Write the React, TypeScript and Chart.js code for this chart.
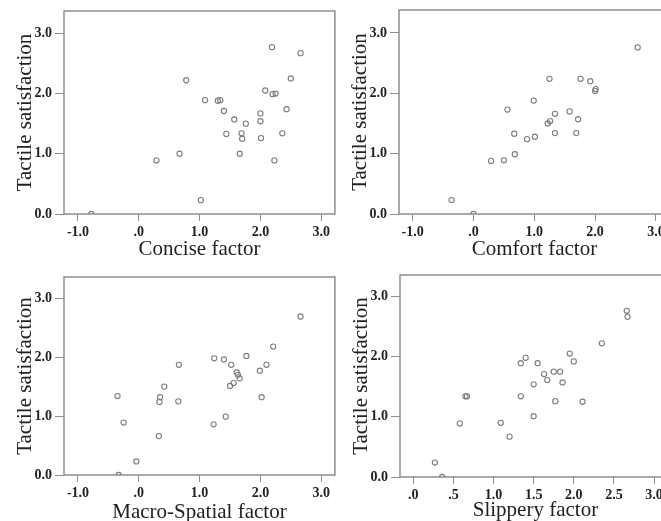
import React, { useEffect, useRef } from 'react';
import { Chart, registerables } from 'chart.js';

Chart.register(...registerables);

// ---------- data ----------
const conciseX = [-0.78, 0.29, 0.67, 0.78, 1.02, 1.09, 1.30, 1.34, 1.40, 1.44, 1.57, 1.76, 1.69, 1.70, 1.66, 2.00, 2.00, 2.01, 2.08, 2.19, 2.20, 2.25, 2.23, 2.36, 2.43, 2.50, 2.66];
const conciseY = [0.00, 0.89, 1.00, 2.22, 0.23, 1.89, 1.88, 1.89, 1.71, 1.33, 1.57, 1.50, 1.34, 1.25, 1.00, 1.67, 1.54, 1.26, 2.05, 2.77, 1.99, 2.00, 0.89, 1.34, 1.74, 2.25, 2.67];

const comfortX = [0.00, -0.36, 0.29, 0.50, 0.68, 0.56, 0.67, 0.88, 1.01, 0.99, 1.22, 1.26, 1.25, 1.34, 1.34, 1.58, 1.72, 1.69, 1.76, 1.92, 2.00, 2.01, 2.70];
const comfortY = [0.00, 0.23, 0.88, 0.89, 0.99, 1.73, 1.33, 1.24, 1.28, 1.88, 1.50, 1.54, 2.24, 1.66, 1.34, 1.70, 1.57, 1.34, 2.24, 2.20, 2.04, 2.07, 2.76];

const macroX = [-0.33, -0.35, -0.25, -0.04, 0.33, 0.34, 0.35, 0.42, 0.65, 0.66, 1.23, 1.24, 1.40, 1.43, 1.52, 1.50, 1.56, 1.61, 1.63, 1.66, 1.77, 1.99, 2.02, 2.10, 2.21, 2.66];
const macroY = [0.00, 1.34, 0.89, 0.23, 0.66, 1.24, 1.32, 1.50, 1.25, 1.87, 0.86, 1.98, 1.96, 0.99, 1.87, 1.51, 1.56, 1.74, 1.70, 1.64, 2.02, 1.77, 1.32, 1.87, 2.18, 2.69];

const slipX = [0.27, 0.36, 0.58, 0.65, 0.67, 1.09, 1.20, 1.34, 1.34, 1.40, 1.50, 1.50, 1.55, 1.63, 1.67, 1.75, 1.77, 1.83, 1.86, 1.95, 2.00, 2.11, 2.35, 2.66, 2.67];
const slipY = [0.24, 0.00, 0.89, 1.34, 1.34, 0.90, 0.67, 1.34, 1.89, 1.98, 1.54, 1.01, 1.89, 1.71, 1.61, 1.75, 1.26, 1.75, 1.57, 2.05, 1.92, 1.25, 2.22, 2.76, 2.66];

const factorTicks = [-1, 0, 1, 2, 3];
const slipperyTicks = [0, 0.5, 1, 1.5, 2, 2.5, 3];
const satisfactionTicks = [0, 1, 2, 3];

const yTitle = 'Tactile satisfaction';
const xTitles = ['Concise factor', 'Comfort factor', 'Macro-Spatial factor', 'Slippery factor'];

// ---------- style ----------
const SERIF = '"Liberation Serif", "Times New Roman", Times, serif';
const FRAME = '#8e8e8e';
const TEXT = '#222222';
const POINT = '#7d7d7d';

const fmtX = (v: number) => {
  const s = Math.abs(v).toFixed(1);
  const t = Math.abs(v) < 1 ? s.slice(1) : s;
  return (v < 0 ? '-' : '') + t;
};
const fmtY = (v: number) => v.toFixed(1);

const framePlugin = {
  id: 'frame',
  beforeDatasetsDraw(chart: any) {
    const { ctx, chartArea: a } = chart;
    ctx.save();
    ctx.strokeStyle = FRAME;
    ctx.lineWidth = 1.5;
    ctx.strokeRect(a.left, a.top, a.right - a.left, a.bottom - a.top);
    ctx.restore();
  },
};

type PanelProps = {
  left: number;
  top: number;
  padTop: number;
  xAxisH: number;
  xMin: number;
  xMax: number;
  yMax: number;
  xTicks: number[];
  xs: number[];
  ys: number[];
  xTitle: string;
  titlePadBottom: number;
};

const W = 340;
const H = 262;

function Panel(p: PanelProps) {
  const ref = useRef<HTMLCanvasElement | null>(null);
  useEffect(() => {
    if (!ref.current) return;
    const data = p.xs.map((x, i) => ({ x, y: p.ys[i] }));
    const chart = new Chart(ref.current, {
      type: 'scatter',
      data: {
        datasets: [
          {
            data,
            pointStyle: 'circle',
            pointRadius: 2.6,
            pointBorderWidth: 1.1,
            borderColor: POINT,
            backgroundColor: 'rgba(255,255,255,0)',
            pointBackgroundColor: 'rgba(255,255,255,0)',
            pointBorderColor: POINT,
            clip: 0,
          } as any,
        ],
      },
      options: {
        responsive: false,
        animation: false,
        events: [],
        layout: { padding: { left: 0, top: p.padTop, right: 4, bottom: 0 } },
        plugins: { legend: { display: false }, tooltip: { enabled: false }, title: { display: false } },
        scales: {
          x: {
            type: 'linear',
            min: p.xMin,
            max: p.xMax,
            afterBuildTicks: (s: any) => {
              s.ticks = p.xTicks.map((v) => ({ value: v }));
            },
            afterFit: (s: any) => {
              s.height = p.xAxisH;
              s.paddingLeft = 0;
              s.paddingRight = 0;
            },
            grid: { display: true, drawOnChartArea: false, drawTicks: true, tickLength: 7, color: FRAME, lineWidth: 1 },
            border: { display: false },
            ticks: {
              callback: (v: any) => fmtX(Number(v)),
              font: { family: SERIF, size: 14, weight: 'bold' },
              color: TEXT,
              padding: 3,
              maxRotation: 0,
              autoSkip: false,
            },
            title: {
              display: true,
              text: p.xTitle,
              font: { family: SERIF, size: 21, weight: 'normal' },
              color: TEXT,
              padding: { top: 0, bottom: p.titlePadBottom },
            },
          },
          y: {
            type: 'linear',
            min: 0,
            max: p.yMax,
            afterBuildTicks: (s: any) => {
              s.ticks = satisfactionTicks.map((v) => ({ value: v }));
            },
            afterFit: (s: any) => {
              s.width = 64;
              s.paddingTop = 0;
              s.paddingBottom = 0;
            },
            grid: { display: true, drawOnChartArea: false, drawTicks: true, tickLength: 9, color: FRAME, lineWidth: 1 },
            border: { display: false },
            ticks: {
              callback: (v: any) => fmtY(Number(v)),
              font: { family: SERIF, size: 14, weight: 'bold' },
              color: TEXT,
              padding: 3,
              autoSkip: false,
            },
            title: {
              display: true,
              text: yTitle,
              font: { family: SERIF, size: 21, weight: 'normal' },
              color: TEXT,
              padding: { top: 13, bottom: 0 },
            },
          },
        },
      },
      plugins: [framePlugin],
    } as any);
    return () => chart.destroy();
  }, []);
  return (
    <canvas
      ref={ref}
      width={W}
      height={H}
      style={{ position: 'absolute', left: p.left, top: p.top, width: W, height: H }}
    />
  );
}

export default function App() {
  return (
    <div
      style={{
        position: 'fixed',
        left: 0,
        top: 0,
        width: 661,
        height: 521,
        overflow: 'hidden',
        background: '#ffffff',
      }}
    >
      <Panel left={0} top={0} padTop={11} xAxisH={48} xMin={-1.23} xMax={3.225} yMax={3.37}
        xTicks={factorTicks} xs={conciseX} ys={conciseY} xTitle={xTitles[0]} titlePadBottom={0} />
      <Panel left={335} top={0} padTop={10} xAxisH={48} xMin={-1.225} xMax={3.23} yMax={3.38}
        xTicks={factorTicks} xs={comfortX} ys={comfortY} xTitle={xTitles[1]} titlePadBottom={0} />
      <Panel left={0} top={264} padTop={13} xAxisH={51} xMin={-1.23} xMax={3.225} yMax={3.36}
        xTicks={factorTicks} xs={macroX} ys={macroY} xTitle={xTitles[2]} titlePadBottom={1} />
      <Panel left={336} top={264} padTop={11} xAxisH={49} xMin={-0.165} xMax={3.21} yMax={3.355}
        xTicks={slipperyTicks} xs={slipX} ys={slipY} xTitle={xTitles[3]} titlePadBottom={3} />
    </div>
  );
}
